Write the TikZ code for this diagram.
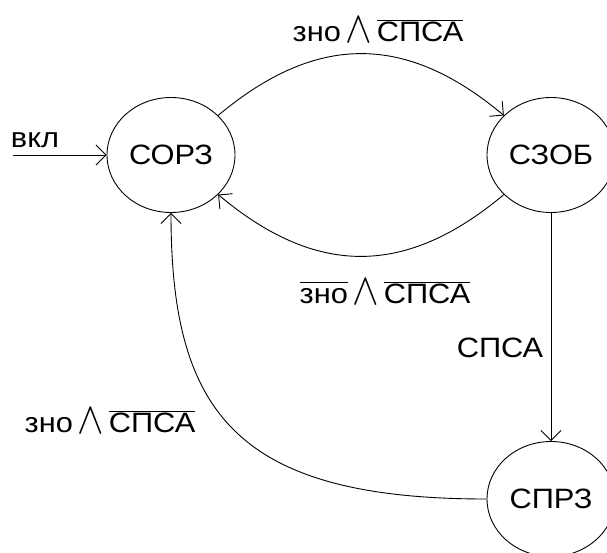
\documentclass[tikz,border=0pt]{standalone}
\usepackage{fontspec}
\setmainfont{Liberation Sans}[FakeStretch=1.1]
\usetikzlibrary{arrows.meta,positioning,shapes.geometric}
\newcommand{\ovl}[1]{$\overline{\mbox{\vphantom{С}#1}}$}
\newcommand{\conj}{\,\raisebox{-1pt}{\scalebox{1.6}[1.8]{$\wedge$}}\,}
\tikzset{
  state/.style={draw, ellipse, line width=0.9pt, minimum width=128pt, minimum height=115pt, inner sep=0pt, font=\fontsize{28}{28}\selectfont},
  cond/.style={font=\fontsize{28}{28}\selectfont, inner sep=0pt, anchor=base},
  line/.style={-{Straight Barb[length=10pt,width=20pt]}, line width=0.9pt}
}

\begin{document}
\begin{tikzpicture}[x=1pt,y=1pt]
  \useasboundingbox (0,0) rectangle (607,-552);
  \node[state] (sorz) at (171,-155) {СОРЗ};
  \node[state] (szob) at (551,-155) {СЗОБ};
  \node[state] (sprz) at (551,-499) {СПРЗ};
  \coordinate (on) at (13,-155);
  \node[cond] (von) at (35,-147) {вкл};
  \draw[line] (on) -- (sorz);
  \draw[line] (sorz) to[out=40, in=140, looseness=1.15] (szob);
  \node[cond] (c1) at (378,-41) {зно\conj\ovl{СПСА}};
  \draw[line] (szob) to[out=220, in=320, looseness=1.15] (sorz);
  \node[cond] (c2) at (385,-303) {\ovl{зно}\conj\ovl{СПСА}};
  \draw[line] (szob) -- (sprz);
  \node[cond] (c3) at (500,-357) {СПСА};
  \draw[line] (sprz.west) .. controls +(-250,0) and +(0,-200) .. (sorz.south);
  \node[cond] (c4) at (110,-432) {зно\conj\ovl{СПСА}};
\end{tikzpicture}
\end{document}
